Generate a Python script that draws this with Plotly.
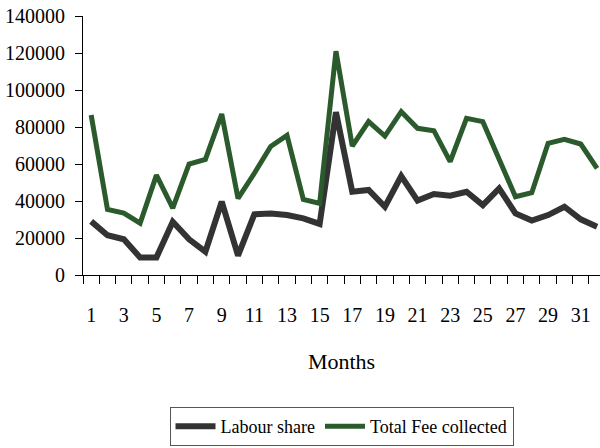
import plotly.graph_objects as go

# Monthly figures (Rs.)
months = list(range(1, 33))
labour_share = [29000, 21500, 19300, 9500, 9500, 28800, 19300, 12600, 39600, 10500,
                32800, 33300, 32400, 30600, 27600, 88000, 45000, 46000, 36900, 53500,
                40200, 43800, 42900, 45000, 37800, 46800, 33300, 29400, 32400, 36900,
                30100, 26100]
total_fee = [86500, 35500, 33500, 28000, 54000, 36200, 60000, 62500, 87000, 41400,
             55000, 69500, 75500, 40900, 38700, 121000, 69700, 82900, 75100, 88300,
             79300, 78000, 61300, 84700, 82900, 62200, 42300, 44500, 71200, 73300,
             70800, 57600]
x_tick_values = list(range(1, 33, 2))
x_tick_labels = [str(m) for m in x_tick_values]
y_tick_values = list(range(0, 140001, 20000))
y_tick_labels = [str(v) for v in y_tick_values]

FONT = "Liberation Serif, Times New Roman, serif"
LABOUR_COLOR = "#333333"
FEE_COLOR = "#2b5a2c"

fig = go.Figure()
fig.add_trace(go.Scatter(x=months, y=labour_share, mode="lines", name="Labour share",
                         line=dict(color=LABOUR_COLOR, width=6)))
fig.add_trace(go.Scatter(x=months, y=total_fee, mode="lines", name="Total Fee collected",
                         line=dict(color=FEE_COLOR, width=5)))

# category boundaries carry the tick marks, odd months carry the labels
boundaries = [m - 0.5 for m in months] + [months[-1] + 0.5]

fig.update_xaxes(
    range=[0.5, 32.18],
    showline=True, linecolor="black", linewidth=1,
    showgrid=False, zeroline=False,
    tickmode="array", tickvals=x_tick_values, ticktext=x_tick_labels,
    ticks="", ticklabelstandoff=22,
    minor=dict(tickmode="array", tickvals=boundaries, ticks="outside",
               ticklen=8, tickcolor="black", tickwidth=1, showgrid=False),
    tickfont=dict(family=FONT, size=20, color="black"),
    title=dict(text="Months", font=dict(family=FONT, size=22, color="black"), standoff=28),
)
fig.update_yaxes(
    range=[0, 140000],
    showline=True, linecolor="black", linewidth=1,
    showgrid=False, zeroline=False,
    tickmode="array", tickvals=y_tick_values, ticktext=y_tick_labels,
    ticks="outside", ticklen=7, tickcolor="black", tickwidth=1,
    ticklabelstandoff=6,
    tickfont=dict(family=FONT, size=20, color="black"),
)

fig.update_layout(
    width=600, height=448, autosize=False,
    margin=dict(l=83, r=0, t=16, b=173, pad=0),
    paper_bgcolor="white", plot_bgcolor="white",
    font=dict(family=FONT, color="black"),
    showlegend=True,
    legend=dict(orientation="h", x=0.5, xanchor="center", y=-0.51, yanchor="top",
                bordercolor="#555555", borderwidth=1, bgcolor="white",
                font=dict(family=FONT, size=18, color="black"),
                itemwidth=40, tracegroupgap=0),
)

fig.write_html("out.html")
